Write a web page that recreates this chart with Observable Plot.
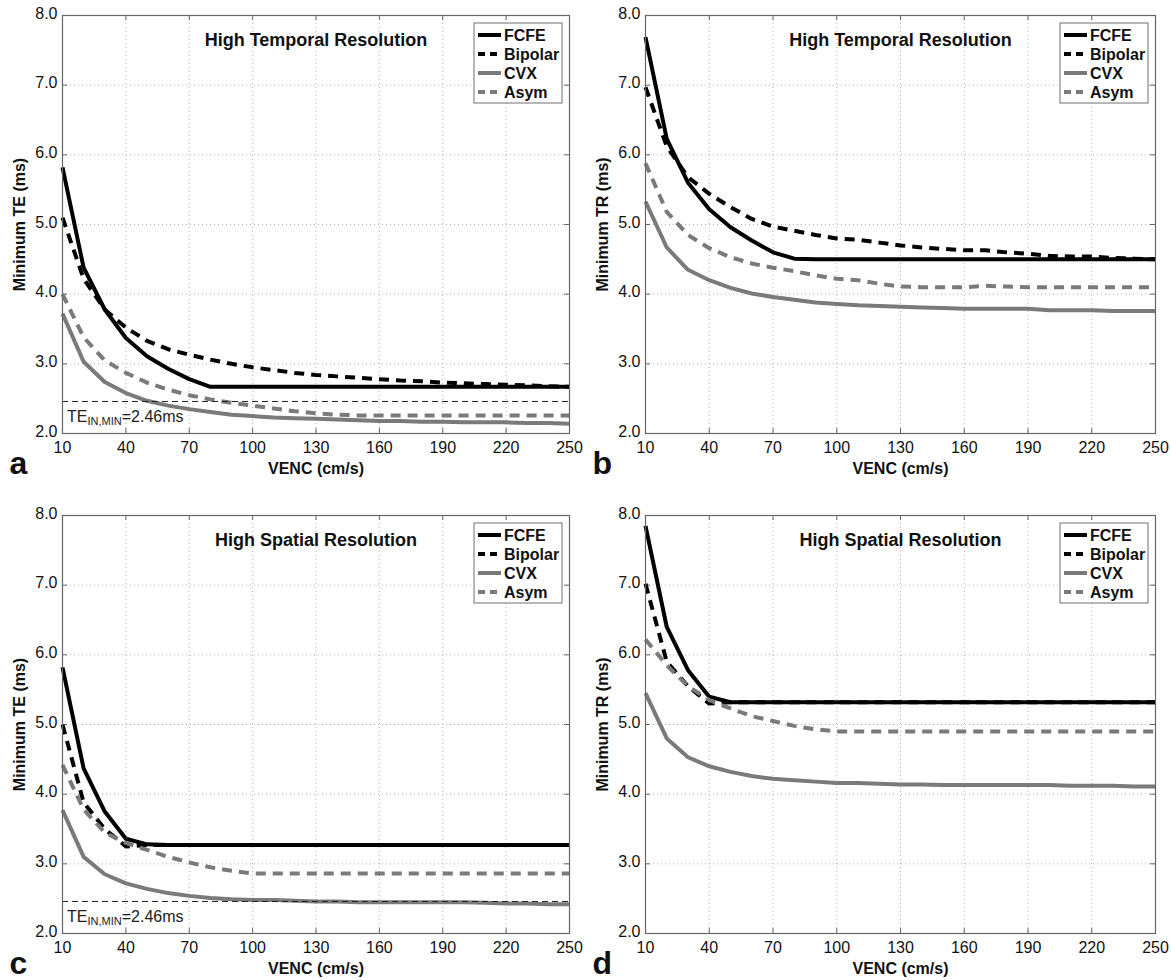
<!DOCTYPE html>
<html><head><meta charset="utf-8">
<script src="https://cdn.jsdelivr.net/npm/d3@7"></script>
<script src="https://cdn.jsdelivr.net/npm/@observablehq/plot@0.6"></script>
<style>
body{margin:0;background:#fff;}
#wrap{position:relative;width:1171px;height:980px;overflow:hidden;background:#fff;}
#wrap svg{position:absolute;}
</style></head><body><div id="wrap"></div>
<script>
const venc = [10,20,30,40,50,60,70,80,90,100,110,120,130,140,150,160,170,180,190,200,210,220,230,240,250];
const xTicks = [10,40,70,100,130,160,190,220,250];
const yTicks = [2,3,4,5,6,7,8];
const seriesNames = ["FCFE","Bipolar","CVX","Asym"];
const teInMin = 2.46;

// Panel a: High Temporal Resolution, Minimum TE
const aFCFE    = [5.82,4.38,3.78,3.37,3.11,2.93,2.78,2.67,2.67,2.67,2.67,2.67,2.67,2.67,2.67,2.67,2.67,2.67,2.67,2.67,2.67,2.67,2.67,2.67,2.67];
const aBipolar = [5.10,4.22,3.78,3.52,3.33,3.21,3.13,3.06,3.00,2.95,2.91,2.87,2.84,2.82,2.80,2.78,2.76,2.75,2.73,2.72,2.71,2.70,2.69,2.68,2.67];
const aCVX     = [3.72,3.03,2.74,2.58,2.47,2.40,2.35,2.31,2.27,2.25,2.23,2.22,2.21,2.20,2.19,2.18,2.18,2.17,2.17,2.16,2.16,2.16,2.15,2.15,2.14];
const aAsym    = [4.00,3.38,3.05,2.87,2.73,2.63,2.55,2.49,2.44,2.40,2.36,2.32,2.29,2.27,2.26,2.26,2.26,2.26,2.26,2.26,2.26,2.26,2.26,2.26,2.26];

// Panel b: High Temporal Resolution, Minimum TR
const bFCFE    = [7.69,6.23,5.60,5.22,4.96,4.77,4.60,4.51,4.50,4.50,4.50,4.50,4.50,4.50,4.50,4.50,4.50,4.50,4.50,4.50,4.50,4.50,4.50,4.50,4.50];
const bBipolar = [6.97,6.12,5.68,5.44,5.25,5.08,4.97,4.91,4.85,4.80,4.78,4.74,4.70,4.67,4.65,4.63,4.63,4.60,4.58,4.55,4.54,4.54,4.52,4.51,4.50];
const bCVX     = [5.33,4.67,4.35,4.20,4.09,4.01,3.96,3.92,3.88,3.86,3.84,3.83,3.82,3.81,3.80,3.79,3.79,3.79,3.79,3.77,3.77,3.77,3.76,3.76,3.76];
const bAsym    = [5.88,5.18,4.85,4.66,4.53,4.44,4.38,4.33,4.27,4.22,4.20,4.15,4.11,4.10,4.10,4.10,4.12,4.11,4.10,4.10,4.10,4.10,4.10,4.10,4.10];

// Panel c: High Spatial Resolution, Minimum TE
const cFCFE    = [5.82,4.37,3.75,3.36,3.28,3.27,3.27,3.27,3.27,3.27,3.27,3.27,3.27,3.27,3.27,3.27,3.27,3.27,3.27,3.27,3.27,3.27,3.27,3.27,3.27];
const cBipolar = [5.00,3.88,3.50,3.25,3.27,3.27,3.27,3.27,3.27,3.27,3.27,3.27,3.27,3.27,3.27,3.27,3.27,3.27,3.27,3.27,3.27,3.27,3.27,3.27,3.27];
const cCVX     = [3.77,3.10,2.85,2.72,2.64,2.58,2.54,2.51,2.49,2.48,2.48,2.47,2.46,2.46,2.45,2.45,2.45,2.45,2.45,2.45,2.44,2.43,2.43,2.42,2.42];
const cAsym    = [4.42,3.78,3.45,3.30,3.20,3.10,3.02,2.95,2.90,2.86,2.86,2.86,2.86,2.86,2.86,2.86,2.86,2.86,2.86,2.86,2.86,2.86,2.86,2.86,2.86];

// Panel d: High Spatial Resolution, Minimum TR
const dFCFE    = [7.85,6.40,5.78,5.40,5.32,5.32,5.32,5.32,5.32,5.32,5.32,5.32,5.32,5.32,5.32,5.32,5.32,5.32,5.32,5.32,5.32,5.32,5.32,5.32,5.32];
const dBipolar = [7.02,5.90,5.55,5.30,5.32,5.32,5.32,5.32,5.32,5.32,5.32,5.32,5.32,5.32,5.32,5.32,5.32,5.32,5.32,5.32,5.32,5.32,5.32,5.32,5.32];
const dCVX     = [5.45,4.80,4.53,4.40,4.32,4.26,4.22,4.20,4.18,4.16,4.16,4.15,4.14,4.14,4.13,4.13,4.13,4.13,4.13,4.13,4.12,4.12,4.12,4.11,4.11];
const dAsym    = [6.22,5.85,5.55,5.35,5.23,5.12,5.05,4.98,4.93,4.90,4.90,4.90,4.90,4.90,4.90,4.90,4.90,4.90,4.90,4.90,4.90,4.90,4.90,4.90,4.90];

const FONT = '"Liberation Sans", Arial, Helvetica, sans-serif';
const GRAY = "#7a7a7a";
const styles = {
  FCFE:    {stroke: "#000", dash: null},
  Bipolar: {stroke: "#000", dash: "10,7"},
  CVX:     {stroke: GRAY, dash: null},
  Asym:    {stroke: GRAY, dash: "10,7"}
};

function panel(cfg) {
  const {left, top, width, height, mL, mR, mT, mB, values, yLabel, title, letter, teLine} = cfg;
  const marks = [
    Plot.gridX(xTicks, {stroke: "#b0b0b0", strokeOpacity: 1, strokeDasharray: "1,3"}),
    Plot.gridY(yTicks, {stroke: "#b0b0b0", strokeOpacity: 1, strokeDasharray: "1,3"}),
    Plot.tickX(xTicks, {x: d => d, insetTop: height - mT - mB - 5, stroke: "#666"}),
    Plot.tickX(xTicks, {x: d => d, insetBottom: height - mT - mB - 5, stroke: "#666"}),
    Plot.tickY(yTicks, {y: d => d, insetRight: width - mL - mR - 5, stroke: "#666"}),
    Plot.tickY(yTicks, {y: d => d, insetLeft: width - mL - mR - 5, stroke: "#666"}),
    Plot.axisX(xTicks, {tickSize: 0, tickPadding: 8, fontSize: 16, fill: "#111", tickFormat: d => String(d), label: null}),
    Plot.axisY(yTicks, {tickSize: 0, tickPadding: 5, fontSize: 16, fill: "#111", tickFormat: d3.format(".1f"), label: null, dy: -2}),
  ];
  seriesNames.forEach((name, k) => {
    const rows = venc.map((v, i) => ({venc: v, value: values[k][i]}));
    marks.push(Plot.line(rows, {x: "venc", y: "value", stroke: styles[name].stroke, strokeWidth: 4,
      strokeDasharray: styles[name].dash, strokeLinejoin: "round", strokeLinecap: "butt"}));
  });
  if (teLine) marks.push(Plot.ruleY([teInMin], {stroke: "#222", strokeWidth: 1, strokeDasharray: "6,4"}));
  marks.push(Plot.frame({stroke: "#666", strokeWidth: 1.2}));
  marks.push(Plot.text([title], {frameAnchor: "top", dy: 25, fontSize: 18, fontWeight: "bold", lineAnchor: "middle", fill: "#111"}));
  marks.push(Plot.text(["VENC (cm/s)"], {frameAnchor: "bottom", dy: 35, fontSize: 16, fontWeight: "bold", lineAnchor: "middle", fill: "#111"}));
  marks.push(Plot.text([yLabel], {frameAnchor: "left", dx: -43, rotate: -90, fontSize: 16, fontWeight: "bold", lineAnchor: "middle", textAnchor: "middle", fill: "#111"}));
  marks.push(Plot.text([letter], {frameAnchor: "bottom-left", dx: -53, dy: 30, fontSize: 32, fontWeight: "bold", textAnchor: "start", lineAnchor: "middle", fill: "#111"}));

  const svg = Plot.plot({
    width, height, marginLeft: mL, marginRight: mR, marginTop: mT, marginBottom: mB,
    x: {domain: [10, 250]},
    y: {domain: [2, 8]},
    style: {fontFamily: FONT, fontSize: "16px", background: "transparent", overflow: "visible"},
    marks
  });
  svg.style.left = left + "px";
  svg.style.top = top + "px";

  // Legend (decoration) in pixel space near the frame's top-right
  const fr = width - mR, ft = mT;
  const g = d3.select(svg).append("g").attr("font-family", FONT).attr("text-anchor", "start");
  g.append("rect").attr("x", fr - 95).attr("y", ft + 8).attr("width", 88).attr("height", 80)
    .attr("fill", "#fff").attr("stroke", "#888").attr("stroke-width", 1.2);
  seriesNames.forEach((name, k) => {
    const yy = ft + 20 + k * 19;
    g.append("line").attr("x1", fr - 91).attr("x2", fr - 68).attr("y1", yy).attr("y2", yy)
      .attr("stroke", styles[name].stroke).attr("stroke-width", 4)
      .attr("stroke-dasharray", styles[name].dash ? "7,5" : null);
    g.append("text").attr("x", fr - 65).attr("y", yy).attr("dy", "0.35em").attr("text-anchor", "start")
      .attr("font-size", 16).attr("font-weight", "bold").attr("fill", "#111").text(name);
  });

  if (teLine) {
    const sx = svg.scale("x"), sy = svg.scale("y");
    const t = d3.select(svg).append("text").attr("font-family", FONT).attr("fill", "#222")
      .attr("text-anchor", "start")
      .attr("x", sx.apply(10) + 5).attr("y", sy.apply(teInMin) + 21).attr("font-size", 16);
    t.append("tspan").text("TE");
    t.append("tspan").attr("font-size", 11).attr("dy", 3).text("IN,MIN");
    t.append("tspan").attr("font-size", 16).attr("dy", -3).text("=" + teInMin.toFixed(2) + "ms");
  }
  document.getElementById("wrap").appendChild(svg);
}

const common = {width: 585, height: 490, mL: 62, mR: 16, mT: 15, mB: 57};
panel({...common, left: 0, top: 0, values: [aFCFE, aBipolar, aCVX, aAsym], yLabel: "Minimum TE (ms)", title: "High Temporal Resolution", letter: "a", teLine: true});
panel({...common, width: 588, left: 583, top: 0, values: [bFCFE, bBipolar, bCVX, bAsym], yLabel: "Minimum TR (ms)", title: "High Temporal Resolution", letter: "b", teLine: false});
panel({...common, left: 0, top: 500, values: [cFCFE, cBipolar, cCVX, cAsym], yLabel: "Minimum TE (ms)", title: "High Spatial Resolution", letter: "c", teLine: true});
panel({...common, width: 588, left: 583, top: 500, values: [dFCFE, dBipolar, dCVX, dAsym], yLabel: "Minimum TR (ms)", title: "High Spatial Resolution", letter: "d", teLine: false});
</script></body></html>
